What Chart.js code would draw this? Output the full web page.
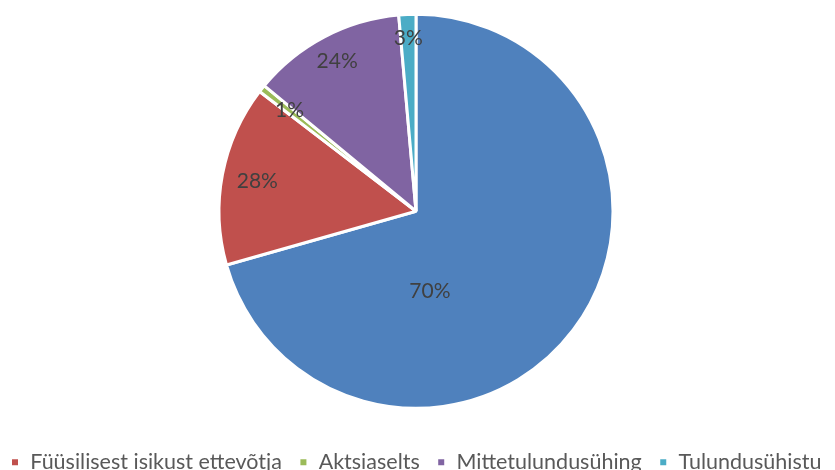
<!DOCTYPE html>
<html lang="et">
<head>
    <meta charset="UTF-8">
    <title>Ettevõtlusvormid</title>
    <script src="https://cdn.jsdelivr.net/npm/chart.js"></script>
    <style>
        html, body { margin: 0; padding: 0; background: #fff; overflow: hidden; }
        .janela { width: 835px; height: 470px; overflow: hidden; position: relative; }
        /* lõuend on laiem, et legend mahuks ühte ritta (nagu Excelis, servast lõigatud) */
        #graafik { position: absolute; left: -33px; top: -12px; width: 900px; height: 495px; }
    </style>
</head>
<body>
    <div class="janela">
        <div id="graafik">
            <canvas id="pirukas"></canvas>
        </div>
    </div>

<script>
    // andmed
    const kategooriad = ["Osaühing", "Füüsilisest isikust ettevõtja", "Aktsiaselts", "Mittetulundusühing", "Tulundusühistu"];
    const osakaal = [70.6, 14.8, 0.6, 12.6, 1.4];
    const sildid = ["70%", "28%", "1%", "24%", "3%"];
    const varvid = ["#4F81BD", "#C0504D", "#9BBB59", "#8064A2", "#4BACC6"];

    // protsendid lõikude peale
    const protsendid = {
        id: 'protsendid',
        afterDatasetsDraw(chart, args, opts) {
            const ctx = chart.ctx;
            const meta = chart.getDatasetMeta(0);
            ctx.save();
            ctx.font = '21px Lato';
            ctx.fillStyle = '#404040';
            ctx.textAlign = 'center';
            ctx.textBaseline = 'middle';
            meta.data.forEach((arc, i) => {
                const p = arc.getProps(['x', 'y', 'startAngle', 'endAngle', 'outerRadius']);
                const nurk = (p.startAngle + p.endAngle) / 2 + opts.nihe[i] * Math.PI / 180;
                const r = p.outerRadius * opts.kaugus[i];
                ctx.fillText(sildid[i], p.x + Math.cos(nurk) * r, p.y + Math.sin(nurk) * r);
            });
            ctx.restore();
        }
    };

    const config = {
        type: 'pie',
        data: {
            labels: kategooriad,
            datasets: [{
                data: osakaal,
                backgroundColor: varvid,
                borderColor: '#ffffff',
                borderWidth: 3
            }]
        },
        options: {
            responsive: true,
            maintainAspectRatio: false,
            animation: false,
            radius: 197,
            layout: { padding: { right: 2 } },
            plugins: {
                tooltip: { enabled: false },
                legend: {
                    position: 'bottom',
                    labels: {
                        boxWidth: 9,
                        boxHeight: 9,
                        padding: 17,
                        color: '#595959',
                        font: { family: 'Lato', size: 21.5 },
                        filter: item => item.index !== 0
                    }
                },
                protsendid: {
                    nihe: [43, 0, 0, 0, 0],
                    kaugus: [0.41, 0.82, 0.82, 0.86, 0.88]
                }
            }
        },
        plugins: [protsendid]
    };

    let myChart = new Chart(document.getElementById('pirukas'), config);
</script>
</body>
</html>
